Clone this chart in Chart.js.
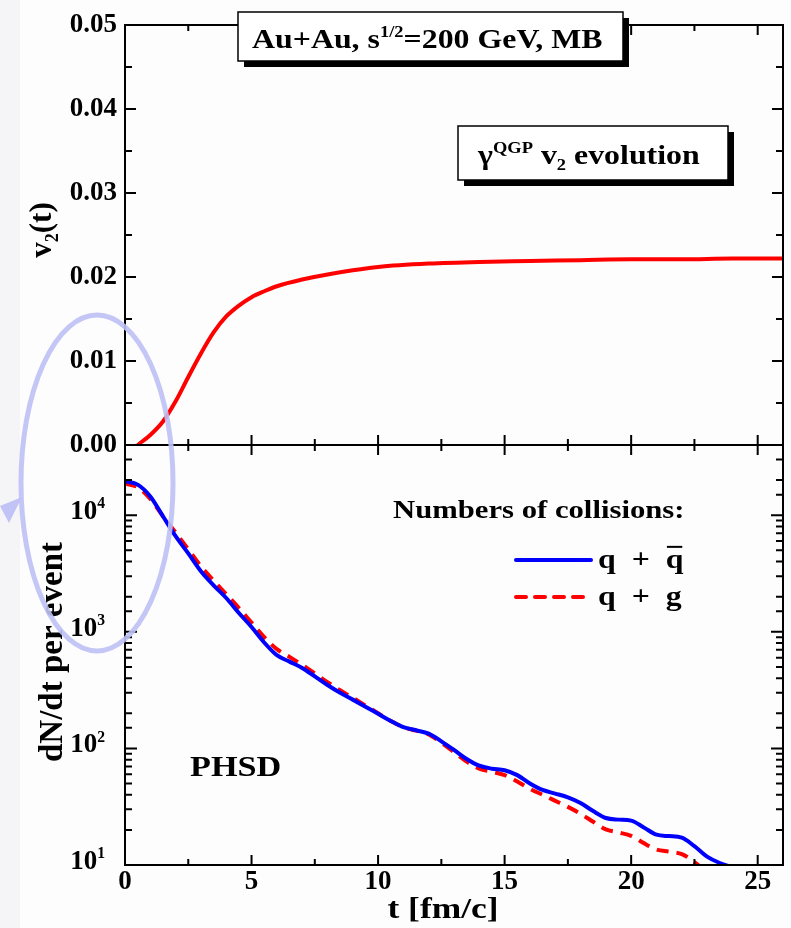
<!DOCTYPE html>
<html lang="en">
<head>
  <meta charset="UTF-8" />
  <title>v2(t) und Stossraten, Au+Au 200 GeV</title>
  <script src="https://cdn.jsdelivr.net/npm/chart.js"></script>
  <style>
    html, body { margin: 0; padding: 0; }
    body {
      width: 791px; height: 928px; position: relative; overflow: hidden;
      background: linear-gradient(to right, #f5f5f7 0, #f5f5f7 20px, #fdfdfd 20px);
    }
    canvas { position: absolute; left: 0; top: 0; }
  </style>
</head>
<body>
  <canvas id="v2Chart" width="791" height="928"></canvas>
  <canvas id="rateChart" width="791" height="928"></canvas>

  <script>
    // ---- data ----
    const tV2 = [0.5, 1, 1.5, 2, 2.5, 3, 3.5, 4, 4.5, 5, 5.5, 6, 7, 8, 9, 10, 12, 14, 16, 18, 20, 22, 24, 26];
    const v2QGP = [0, 0.0012, 0.0028, 0.0052, 0.0081, 0.0109, 0.0134, 0.0153, 0.0166, 0.0176, 0.0183, 0.0189,
                   0.0197, 0.0203, 0.0208, 0.0212, 0.0216, 0.0218, 0.0219, 0.0220, 0.0221, 0.0221, 0.0222, 0.0222];

    const tRate = [0, 0.5, 1, 1.5, 2, 2.5, 3, 3.5, 4, 4.5, 5, 5.5, 6, 6.5, 7, 7.5, 8, 8.5, 9, 9.5,
                   10, 10.5, 11, 11.5, 12, 12.5, 13, 13.5, 14, 14.5, 15, 15.5, 16, 16.5, 17, 17.5,
                   18, 18.5, 19, 19.5, 20, 20.5, 21, 21.5, 22, 22.5, 23, 23.5, 24];
    // q + qbar
    const rateQQbar = [19600, 18300, 14500, 9800, 6600, 4700, 3300, 2500, 1950, 1450, 1100, 810, 630, 555, 490, 415,
                       350, 300, 262, 228, 198, 172, 152, 143, 134, 115, 97, 81, 71, 67, 65, 59, 50, 44, 41, 38,
                       34, 29, 25.3, 24.5, 24, 21, 18.2, 17.7, 17.2, 14.5, 11.8, 10.4, 9.6];
    // q + g
    const rateQG = [18700, 17400, 13800, 9800, 7100, 5100, 3650, 2750, 2100, 1600, 1200, 900, 710, 610, 520, 440,
                    370, 315, 272, 233, 200, 172, 152, 142, 132, 112, 93, 77, 67, 63, 59, 52, 45, 40, 35.5, 31.5,
                    27.5, 23.5, 20.2, 19, 17.8, 15.4, 13.6, 13, 12.4, 10.6, 8.6, 7.5, 6.5];

    const xTickMarks = [0, 2.5, 5, 7.5, 10, 12.5, 15, 17.5, 20, 22.5, 25];
    const v2TickMarks = [0, 0.005, 0.01, 0.015, 0.02, 0.025, 0.03, 0.035, 0.04, 0.045, 0.05];

    const SERIF = '"Liberation Serif", "Times New Roman", "DejaVu Serif", serif';
    const SX = 1.18; // the scanned figure is a bit wider than tall

    function fontStr(size, bold) {
      return (bold ? 'bold ' : '') + size + 'px ' + SERIF;
    }

    // text with sub/superscripts
    function richText(ctx, x, y, parts, size, opt = {}) {
      const sx = opt.sx || 1;
      const align = opt.align || 'left';
      ctx.save();
      ctx.translate(x, y);
      if (opt.rot) ctx.rotate(opt.rot);
      ctx.scale(sx, 1);
      ctx.textBaseline = 'alphabetic';
      ctx.textAlign = 'left';
      ctx.fillStyle = '#000';
      let total = 0;
      const sized = parts.map(p => {
        const s = (p.sup || p.sub) ? size * 0.58 : size;
        ctx.font = fontStr(s, true);
        const w = ctx.measureText(p.t).width;
        total += w;
        return Object.assign({}, p, { s, w });
      });
      let cx = align === 'center' ? -total / 2 : align === 'right' ? -total : 0;
      sized.forEach(p => {
        ctx.font = fontStr(p.s, true);
        const dy = p.sup ? -size * 0.4 : p.sub ? size * 0.24 : 0;
        ctx.fillText(p.t, cx, dy);
        if (p.bar) ctx.fillRect(cx + 1, -size * 0.82, p.w - 2, 2);
        cx += p.w;
      });
      ctx.restore();
    }

    function shadowBox(ctx, x, y, w, h) {
      ctx.fillStyle = '#000';
      ctx.fillRect(x + 6, y + 6, w, h);
      ctx.fillStyle = '#fff';
      ctx.fillRect(x, y, w, h);
      ctx.strokeStyle = '#000';
      ctx.lineWidth = 1.5;
      ctx.strokeRect(x, y, w, h);
    }

    // frame + inward ticks on all four sides
    function drawFrame(chart, yMarks) {
      const { ctx, chartArea: a, scales: { x } } = chart;
      ctx.save();
      ctx.strokeStyle = '#000';
      ctx.lineWidth = 2;
      ctx.strokeRect(a.left, a.top, a.right - a.left, a.bottom - a.top);
      ctx.beginPath();
      xTickMarks.forEach(t => {
        const px = x.getPixelForValue(t);
        const len = t % 5 === 0 ? 10 : 6;
        ctx.moveTo(px, a.bottom); ctx.lineTo(px, a.bottom - len);
        ctx.moveTo(px, a.top); ctx.lineTo(px, a.top + len);
      });
      yMarks.forEach(m => {
        ctx.moveTo(a.left, m.py); ctx.lineTo(a.left + m.len, m.py);
        ctx.moveTo(a.right, m.py); ctx.lineTo(a.right - m.len, m.py);
      });
      ctx.stroke();
      ctx.restore();
    }

    const v2Decor = {
      id: 'v2Decor',
      afterDraw(chart) {
        const { ctx, scales: { y } } = chart;
        drawFrame(chart, v2TickMarks.map(v => ({
          py: y.getPixelForValue(v),
          len: Math.abs(v * 100 - Math.round(v * 100)) < 1e-6 ? 11 : 7
        })));
        ctx.save();
        // y title
        richText(ctx, 51, 230, [{ t: 'v' }, { t: '2', sub: true }, { t: '(t)' }], 31,
          { rot: -Math.PI / 2, align: 'center' });
        // label boxes
        shadowBox(ctx, 238, 12, 385, 49);
        richText(ctx, 252, 48, [{ t: 'Au+Au, s' }, { t: '1/2', sup: true }, { t: '=200 GeV, MB' }], 27, { sx: SX });
        shadowBox(ctx, 458, 126, 270, 54);
        richText(ctx, 478, 164, [{ t: '\u03b3' }, { t: 'QGP', sup: true }, { t: ' v' }, { t: '2', sub: true }, { t: ' evolution' }], 27, { sx: SX });
        ctx.restore();
      }
    };

    const rateDecor = {
      id: 'rateDecor',
      afterDraw(chart) {
        const { ctx, scales: { y } } = chart;
        const marks = y.ticks.map(tk => {
          const lg = Math.log10(tk.value);
          const major = Math.abs(lg - Math.round(lg)) < 1e-9;
          return { py: y.getPixelForValue(tk.value), len: major ? 12 : 7, major, exp: Math.round(lg) };
        });
        drawFrame(chart, marks);
        ctx.save();
        // decade labels 10^n
        marks.filter(m => m.major).forEach(m => {
          richText(ctx, 105, m.py + 4, [{ t: '10' }, { t: String(m.exp), sup: true }], 27, { align: 'right' });
        });
        // axis titles
        richText(ctx, 62, 652, [{ t: 'dN/dt per event' }], 33, { rot: -Math.PI / 2, align: 'center' });
        richText(ctx, 443, 918, [{ t: 't [fm/c]' }], 30, { sx: SX, align: 'center' });
        // texts
        richText(ctx, 190, 776, [{ t: 'PHSD' }], 29, { sx: SX });
        richText(ctx, 393, 518, [{ t: 'Numbers of collisions:' }], 26, { sx: SX });
        // legend
        ctx.lineWidth = 4;
        ctx.lineCap = 'round';
        ctx.strokeStyle = '#0000ff';
        ctx.beginPath(); ctx.moveTo(516, 560); ctx.lineTo(591, 560); ctx.stroke();
        ctx.strokeStyle = '#ff0000';
        ctx.setLineDash([10, 9]);
        ctx.beginPath(); ctx.moveTo(516, 597); ctx.lineTo(591, 597); ctx.stroke();
        ctx.setLineDash([]);
        richText(ctx, 598, 568, [{ t: 'q  +  ' }, { t: 'q', bar: true }], 27, { sx: SX });
        richText(ctx, 598, 605, [{ t: 'q  +  g' }], 27, { sx: SX });
        // highlight ellipse with arrow
        ctx.strokeStyle = 'rgba(190, 192, 245, 0.9)';
        ctx.lineWidth = 5;
        ctx.beginPath();
        ctx.ellipse(97, 483, 76, 168, 0, 0, Math.PI * 2);
        ctx.stroke();
        ctx.fillStyle = 'rgba(190, 192, 245, 0.95)';
        ctx.beginPath();
        ctx.moveTo(22, 497); ctx.lineTo(0, 506); ctx.lineTo(9, 523); ctx.closePath();
        ctx.fill();
        ctx.restore();
      }
    };

    const tickFont = { family: SERIF, size: 27, weight: 'bold' };

    new Chart(document.getElementById('v2Chart'), {
      type: 'line',
      data: {
        datasets: [{
          data: tV2.map((t, i) => ({ x: t, y: v2QGP[i] })),
          borderColor: '#ff0000', borderWidth: 4, pointRadius: 0,
          cubicInterpolationMode: 'monotone'
        }]
      },
      options: {
        responsive: false, animation: false,
        layout: { padding: { top: 25, right: 8, bottom: 483, left: 0 } },
        plugins: { legend: { display: false }, tooltip: { enabled: false } },
        scales: {
          x: { type: 'linear', min: 0, max: 26, display: false },
          y: {
            type: 'linear', min: 0, max: 0.05,
            afterFit: s => { s.width = 125; },
            grid: { display: false, drawTicks: false }, border: { display: false },
            ticks: { stepSize: 0.01, padding: 8, color: '#000', font: tickFont, callback: v => v.toFixed(2) }
          }
        }
      },
      plugins: [v2Decor]
    });

    new Chart(document.getElementById('rateChart'), {
      type: 'line',
      data: {
        datasets: [
          {
            label: 'q + qbar',
            data: tRate.map((t, i) => ({ x: t, y: rateQQbar[i] })),
            borderColor: '#0000ff', borderWidth: 4, pointRadius: 0,
            cubicInterpolationMode: 'monotone'
          },
          {
            label: 'q + g',
            data: tRate.map((t, i) => ({ x: t, y: rateQG[i] })),
            borderColor: '#ff0000', borderWidth: 4, pointRadius: 0, borderDash: [12, 8],
            cubicInterpolationMode: 'monotone'
          }
        ]
      },
      options: {
        responsive: false, animation: false,
        layout: { padding: { top: 445, right: 8, bottom: 0, left: 0 } },
        plugins: { legend: { display: false }, tooltip: { enabled: false } },
        scales: {
          x: {
            type: 'linear', min: 0, max: 26,
            afterFit: s => { s.height = 63; },
            grid: { display: false, drawTicks: false }, border: { display: false },
            ticks: { stepSize: 5, includeBounds: false, padding: 1, color: '#000', font: tickFont }
          },
          y: {
            type: 'logarithmic', min: 10, max: 40000,
            afterFit: s => { s.width = 125; },
            grid: { display: false, drawTicks: false }, border: { display: false },
            ticks: { display: false }
          }
        }
      },
      plugins: [rateDecor]
    });
  </script>
</body>
</html>
